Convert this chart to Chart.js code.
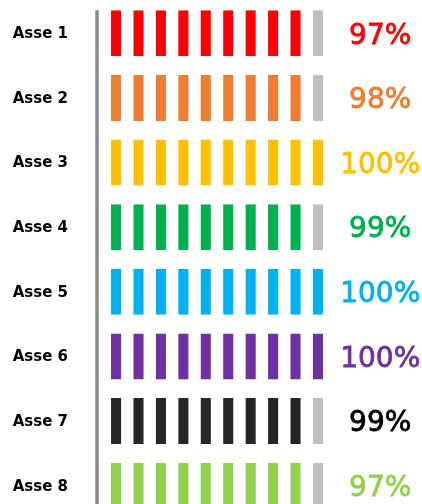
<!DOCTYPE html>
<html>
<head>
<meta charset="utf-8">
<script src="https://cdn.jsdelivr.net/npm/chart.js@4/dist/chart.umd.min.js"></script>
<style>
    html, body { margin: 0; padding: 0; background: #ffffff; overflow: hidden; }
    #wrap { width: 422px; height: 504px; overflow: hidden; }
    #chart { display: block; }
</style>
</head>
<body>
<div id="wrap">
    <canvas id="chart" width="422" height="545"></canvas>
</div>
<script>
// rows of the pictogram
const axes = ['Asse 1', 'Asse 2', 'Asse 3', 'Asse 4', 'Asse 5', 'Asse 6', 'Asse 7', 'Asse 8'];
const percent = [97, 98, 100, 99, 100, 100, 99, 97];
const rowColors = ['#FF0000', '#ED7D31', '#FFC000', '#00B050', '#00B0F0', '#7030A0', '#262626', '#92D050'];
const textColors = ['#FF0000', '#ED7D31', '#FFC000', '#00B050', '#00B0F0', '#7030A0', '#000000', '#92D050'];
const segments = 10;       // each icon = 10%
const restColor = '#BFBFBF';

const font = '"Comic Sans MS", "DejaVu Sans", sans-serif';

const datasets = [];
for (let k = 0; k < segments; k++) {
    datasets.push({
        data: axes.map(() => 1),
        backgroundColor: ctx =>
            percent[ctx.dataIndex] >= (k + 1) * (100 / segments)
                ? rowColors[ctx.dataIndex]
                : restColor,
        borderColor: '#ffffff',
        borderWidth: { left: 6.2, right: 6.2, top: 0, bottom: 0 },
        borderSkipped: false,
        barPercentage: 0.713,
        categoryPercentage: 1,
        yAxisID: 'y'
    });
}

// grey vertical line on the left of the icons
const axisLine = {
    id: 'axisLine',
    afterDatasetsDraw(chart) {
        const bar = chart.getDatasetMeta(0).data[0];
        const top = bar.y - bar.height / 2;
        const ctx = chart.ctx;
        ctx.save();
        ctx.strokeStyle = '#898989';
        ctx.lineWidth = 3.5;
        ctx.beginPath();
        ctx.moveTo(chart.chartArea.left, top);
        ctx.lineTo(chart.chartArea.left, chart.chartArea.bottom + 10);
        ctx.stroke();
        ctx.restore();
    }
};

// invisible grid, only used so tickLength pushes labels sideways
const hiddenGrid = len => ({
    display: true,
    drawOnChartArea: false,
    drawTicks: true,
    tickLength: len,
    color: 'rgba(0,0,0,0)'
});

const chart = new Chart(document.getElementById('chart'), {
    type: 'bar',
    data: {
        labels: axes,
        datasets: datasets
    },
    options: {
        indexAxis: 'y',
        responsive: false,
        animation: false,
        devicePixelRatio: 1,
        layout: { padding: 0 },
        plugins: {
            legend: { display: false },
            tooltip: { enabled: false }
        },
        scales: {
            x: {
                display: false,
                stacked: true,
                min: -0.35,
                max: segments
            },
            y: {
                stacked: true,
                position: 'left',
                grid: hiddenGrid(29),
                border: { display: false },
                afterFit: scale => { scale.width = 97; },
                ticks: {
                    crossAlign: 'center',
                    padding: 0,
                    labelOffset: 1,
                    color: '#000000',
                    font: { family: font, size: 15, weight: 'bold', lineHeight: 1 }
                }
            },
            y2: {
                type: 'category',
                position: 'right',
                labels: percent.map(p => p + '%'),
                offset: true,
                grid: hiddenGrid(11),
                border: { display: false },
                afterFit: scale => { scale.width = 92.8; },
                ticks: {
                    crossAlign: 'center',
                    padding: 0,
                    labelOffset: 3,
                    color: ctx => textColors[ctx.index],
                    textStrokeColor: ctx => textColors[ctx.index],
                    textStrokeWidth: 0.8,
                    font: { family: font, size: 28, lineHeight: 1 }
                }
            }
        }
    },
    plugins: [axisLine]
});

// the reference is cropped: first row starts right at the top edge
chart.canvas.style.marginTop = Math.round(1 - chart.chartArea.top) + 'px';
</script>
</body>
</html>
